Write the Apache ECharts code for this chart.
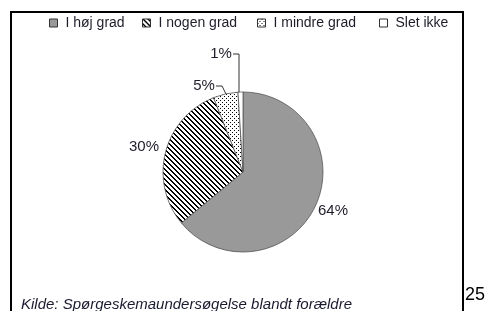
<!DOCTYPE html>
<html><head><meta charset="utf-8">
<script src="https://cdn.jsdelivr.net/npm/echarts@6/dist/echarts.min.js"></script>
<style>html,body{margin:0;padding:0;background:#fff}#c{width:485px;height:311px}</style>
</head><body><div id="c"></div>
<script>
const categories = ['I høj grad', 'I nogen grad', 'I mindre grad', 'Slet ikke'];
const values = [64, 30, 5, 1];
const sourceText = 'Kilde: Spørgeskemaundersøgelse blandt forældre';
const pageNumber = '25';

function makePattern(kind) {
  const c = document.createElement('canvas');
  const ctx = c.getContext('2d');
  if (kind === 'hatch') {
    const n = 5; c.width = n; c.height = n;
    ctx.fillStyle = '#fff'; ctx.fillRect(0, 0, n, n);
    ctx.fillStyle = '#000';
    for (let y = 0; y < n; y++) for (let x = 0; x < n; x++) {
      const d = ((x - y) % n + n) % n;
      if (d < 2) ctx.fillRect(x, y, 1, 1);
    }
  } else {
    c.width = 4; c.height = 4;
    ctx.fillStyle = '#fff'; ctx.fillRect(0, 0, 4, 4);
    ctx.fillStyle = '#000';
    ctx.fillRect(0, 0, 1, 1); ctx.fillRect(2, 2, 1, 1);
  }
  return { image: c, repeat: 'repeat' };
}
const fills = ['#999999', makePattern('hatch'), makePattern('dots'), '#ffffff'];
const lineShown = [false, false, true, true];

const chart = echarts.init(document.getElementById('c'), null, { renderer: 'canvas' });
const legendLeft = [49, 142, 257, 379];
const labelPos = [
  { x: 333, y: 211 }, { x: 144, y: 147 }, { x: 204, y: 86 }, { x: 221, y: 54 }
];
const linePts = [null, null,
  [[216, 86], [222, 86], [226, 94]],
  [[233, 54], [239, 54], [239, 93]]];

chart.setOption({
  animation: false,
  legend: categories.map((name, i) => ({
    data: [name], left: legendLeft[i], top: 16, icon: 'rect',
    itemWidth: 8, itemHeight: 8, padding: 0,
    itemStyle: { borderColor: '#333', borderWidth: 1 },
    textStyle: { fontFamily: 'Liberation Sans, Arial', fontSize: 14, color: '#1e1e2a', padding: [0, 0, 0, 3] },
    selectedMode: false
  })),
  graphic: [
    { type: 'rect', shape: { x: 11, y: 12, width: 452, height: 320 }, style: { fill: 'none', stroke: '#000', lineWidth: 2 }, silent: true },
    { type: 'text', left: 21, top: 297, style: { text: sourceText, font: 'italic 15px "Liberation Sans", Arial', fill: '#1a1a2e' } },
    { type: 'text', left: 465, top: 286, style: { text: pageNumber, font: '18px "Liberation Sans", Arial', fill: '#000' } }
  ],
  series: [{
    type: 'pie',
    center: [243, 172],
    radius: 80,
    startAngle: 90,
    clockwise: true,
    data: categories.map((name, i) => ({
      name, value: values[i],
      itemStyle: { color: fills[i] },
      labelLine: { show: lineShown[i] }
    })),
    itemStyle: { borderColor: '#555', borderWidth: 0.8 },
    label: {
      show: true, formatter: '{c}%',
      fontFamily: 'Liberation Sans, Arial', fontSize: 15, color: '#1e1e2a'
    },
    labelLine: { lineStyle: { color: '#333', width: 1 } },
    labelLayout: function (p) {
      const i = p.dataIndex;
      const r = { x: labelPos[i].x, y: labelPos[i].y, align: 'center', verticalAlign: 'middle' };
      if (linePts[i]) r.labelLinePoints = linePts[i];
      return r;
    },
    emphasis: { disabled: true }
  }]
});
</script></body></html>
